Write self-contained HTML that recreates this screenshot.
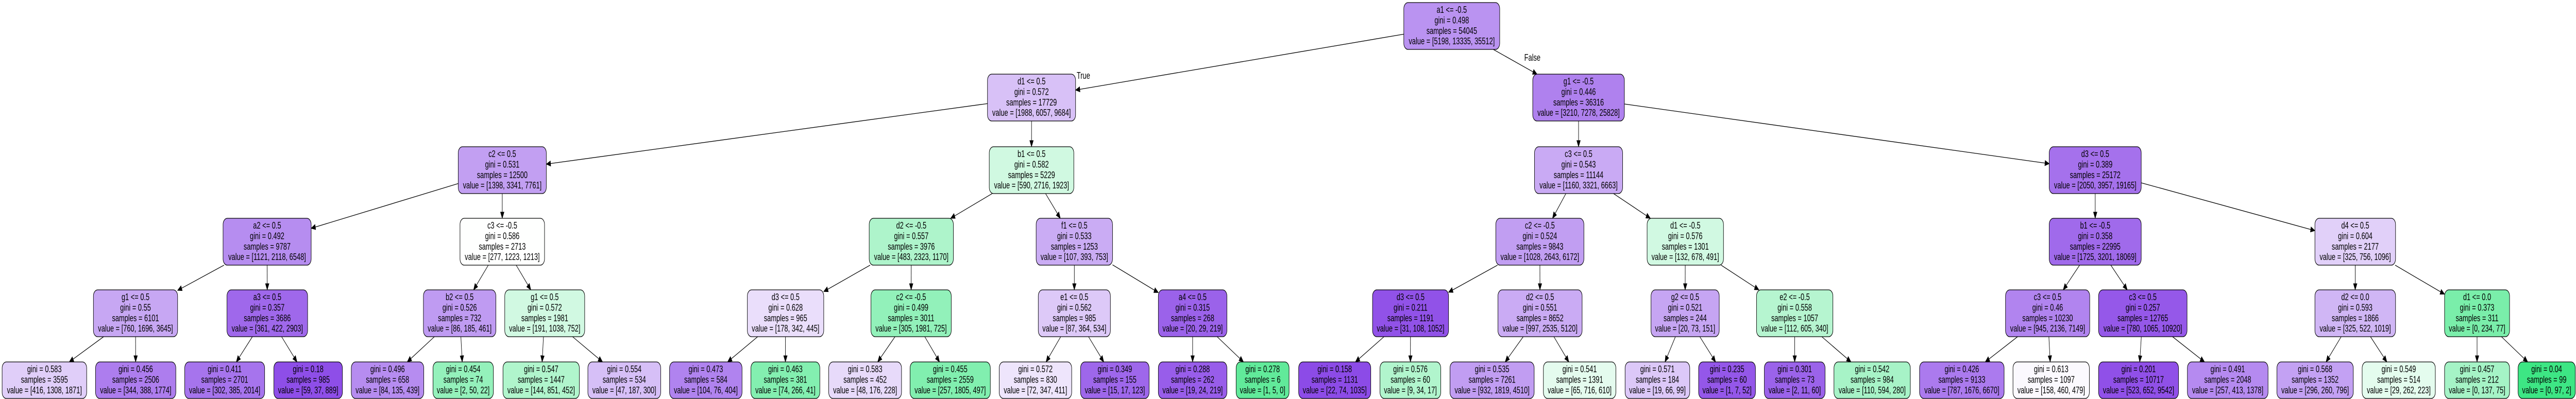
<!DOCTYPE html>
<html><head><meta charset="utf-8">
<style>
html,body{margin:0;padding:0;background:#fff;overflow:hidden;width:100%;height:100%;}
svg{display:block;position:fixed;left:0;top:0;width:100vw;height:100vh;}
text{font-family:"Liberation Sans",Arial,sans-serif;font-size:18.67px;fill:#000;text-anchor:middle;}
</style></head>
<body>
<svg id="s" xmlns="http://www.w3.org/2000/svg" viewBox="0 0 7252 775" preserveAspectRatio="none">
<rect width="7252" height="775" fill="#fff"/>
<g id="shapes"></g>
<g id="texts">
<text x="3050" y="153">True</text>
<text x="4314" y="118">False</text>

<text y="25"><tspan x="4087">a1 &lt;= -0.5</tspan><tspan x="4087" dy="20.4">gini = 0.498</tspan><tspan x="4087" dy="20.4">samples = 54045</tspan><tspan x="4087" dy="20.4">value = [5198, 13335, 35512]</tspan></text>

<text y="164"><tspan x="2904">d1 &lt;= 0.5</tspan><tspan x="2904" dy="20.4">gini = 0.572</tspan><tspan x="2904" dy="20.4">samples = 17729</tspan><tspan x="2904" dy="20.4">value = [1988, 6057, 9684]</tspan></text>
<text y="164"><tspan x="4444">g1 &lt;= -0.5</tspan><tspan x="4444" dy="20.4">gini = 0.446</tspan><tspan x="4444" dy="20.4">samples = 36316</tspan><tspan x="4444" dy="20.4">value = [3210, 7278, 25828]</tspan></text>

<text y="305"><tspan x="1414">c2 &lt;= 0.5</tspan><tspan x="1414" dy="20.4">gini = 0.531</tspan><tspan x="1414" dy="20.4">samples = 12500</tspan><tspan x="1414" dy="20.4">value = [1398, 3341, 7761]</tspan></text>
<text y="305"><tspan x="2904">b1 &lt;= 0.5</tspan><tspan x="2904" dy="20.4">gini = 0.582</tspan><tspan x="2904" dy="20.4">samples = 5229</tspan><tspan x="2904" dy="20.4">value = [590, 2716, 1923]</tspan></text>
<text y="305"><tspan x="4444">c3 &lt;= 0.5</tspan><tspan x="4444" dy="20.4">gini = 0.543</tspan><tspan x="4444" dy="20.4">samples = 11144</tspan><tspan x="4444" dy="20.4">value = [1160, 3321, 6663]</tspan></text>
<text y="305"><tspan x="5898.5">d3 &lt;= 0.5</tspan><tspan x="5898.5" dy="20.4">gini = 0.389</tspan><tspan x="5898.5" dy="20.4">samples = 25172</tspan><tspan x="5898.5" dy="20.4">value = [2050, 3957, 19165]</tspan></text>

<text y="444"><tspan x="752">a2 &lt;= 0.5</tspan><tspan x="752" dy="20.4">gini = 0.492</tspan><tspan x="752" dy="20.4">samples = 9787</tspan><tspan x="752" dy="20.4">value = [1121, 2118, 6548]</tspan></text>
<text y="444"><tspan x="1414">c3 &lt;= -0.5</tspan><tspan x="1414" dy="20.4">gini = 0.586</tspan><tspan x="1414" dy="20.4">samples = 2713</tspan><tspan x="1414" dy="20.4">value = [277, 1223, 1213]</tspan></text>
<text y="444"><tspan x="2565.5">d2 &lt;= -0.5</tspan><tspan x="2565.5" dy="20.4">gini = 0.557</tspan><tspan x="2565.5" dy="20.4">samples = 3976</tspan><tspan x="2565.5" dy="20.4">value = [483, 2323, 1170]</tspan></text>
<text y="444"><tspan x="3024.5">f1 &lt;= 0.5</tspan><tspan x="3024.5" dy="20.4">gini = 0.533</tspan><tspan x="3024.5" dy="20.4">samples = 1253</tspan><tspan x="3024.5" dy="20.4">value = [107, 393, 753]</tspan></text>
<text y="444"><tspan x="4335">c2 &lt;= -0.5</tspan><tspan x="4335" dy="20.4">gini = 0.524</tspan><tspan x="4335" dy="20.4">samples = 9843</tspan><tspan x="4335" dy="20.4">value = [1028, 2643, 6172]</tspan></text>
<text y="444"><tspan x="4744.5">d1 &lt;= -0.5</tspan><tspan x="4744.5" dy="20.4">gini = 0.576</tspan><tspan x="4744.5" dy="20.4">samples = 1301</tspan><tspan x="4744.5" dy="20.4">value = [132, 678, 491]</tspan></text>
<text y="444"><tspan x="5898.5">b1 &lt;= -0.5</tspan><tspan x="5898.5" dy="20.4">gini = 0.358</tspan><tspan x="5898.5" dy="20.4">samples = 22995</tspan><tspan x="5898.5" dy="20.4">value = [1725, 3201, 18069]</tspan></text>
<text y="444"><tspan x="6630.5">d4 &lt;= 0.5</tspan><tspan x="6630.5" dy="20.4">gini = 0.604</tspan><tspan x="6630.5" dy="20.4">samples = 2177</tspan><tspan x="6630.5" dy="20.4">value = [325, 756, 1096]</tspan></text>

<text y="583"><tspan x="381.5">g1 &lt;= 0.5</tspan><tspan x="381.5" dy="20.4">gini = 0.55</tspan><tspan x="381.5" dy="20.4">samples = 6101</tspan><tspan x="381.5" dy="20.4">value = [760, 1696, 3645]</tspan></text>
<text y="583"><tspan x="752.5">a3 &lt;= 0.5</tspan><tspan x="752.5" dy="20.4">gini = 0.357</tspan><tspan x="752.5" dy="20.4">samples = 3686</tspan><tspan x="752.5" dy="20.4">value = [361, 422, 2903]</tspan></text>
<text y="583"><tspan x="1294">b2 &lt;= 0.5</tspan><tspan x="1294" dy="20.4">gini = 0.526</tspan><tspan x="1294" dy="20.4">samples = 732</tspan><tspan x="1294" dy="20.4">value = [86, 185, 461]</tspan></text>
<text y="583"><tspan x="1533.5">g1 &lt;= 0.5</tspan><tspan x="1533.5" dy="20.4">gini = 0.572</tspan><tspan x="1533.5" dy="20.4">samples = 1981</tspan><tspan x="1533.5" dy="20.4">value = [191, 1038, 752]</tspan></text>
<text y="583"><tspan x="2211.5">d3 &lt;= 0.5</tspan><tspan x="2211.5" dy="20.4">gini = 0.628</tspan><tspan x="2211.5" dy="20.4">samples = 965</tspan><tspan x="2211.5" dy="20.4">value = [178, 342, 445]</tspan></text>
<text y="583"><tspan x="2565">c2 &lt;= -0.5</tspan><tspan x="2565" dy="20.4">gini = 0.499</tspan><tspan x="2565" dy="20.4">samples = 3011</tspan><tspan x="2565" dy="20.4">value = [305, 1981, 725]</tspan></text>
<text y="583"><tspan x="3024.5">e1 &lt;= 0.5</tspan><tspan x="3024.5" dy="20.4">gini = 0.562</tspan><tspan x="3024.5" dy="20.4">samples = 985</tspan><tspan x="3024.5" dy="20.4">value = [87, 364, 534]</tspan></text>
<text y="583"><tspan x="3357.5">a4 &lt;= 0.5</tspan><tspan x="3357.5" dy="20.4">gini = 0.315</tspan><tspan x="3357.5" dy="20.4">samples = 268</tspan><tspan x="3357.5" dy="20.4">value = [20, 29, 219]</tspan></text>
<text y="583"><tspan x="3971">d3 &lt;= 0.5</tspan><tspan x="3971" dy="20.4">gini = 0.211</tspan><tspan x="3971" dy="20.4">samples = 1191</tspan><tspan x="3971" dy="20.4">value = [31, 108, 1052]</tspan></text>
<text y="583"><tspan x="4335.5">d2 &lt;= 0.5</tspan><tspan x="4335.5" dy="20.4">gini = 0.551</tspan><tspan x="4335.5" dy="20.4">samples = 8652</tspan><tspan x="4335.5" dy="20.4">value = [997, 2535, 5120]</tspan></text>
<text y="583"><tspan x="4744">g2 &lt;= 0.5</tspan><tspan x="4744" dy="20.4">gini = 0.521</tspan><tspan x="4744" dy="20.4">samples = 244</tspan><tspan x="4744" dy="20.4">value = [20, 73, 151]</tspan></text>
<text y="583"><tspan x="5052.5">e2 &lt;= -0.5</tspan><tspan x="5052.5" dy="20.4">gini = 0.558</tspan><tspan x="5052.5" dy="20.4">samples = 1057</tspan><tspan x="5052.5" dy="20.4">value = [112, 605, 340]</tspan></text>
<text y="583"><tspan x="5764.5">c3 &lt;= 0.5</tspan><tspan x="5764.5" dy="20.4">gini = 0.46</tspan><tspan x="5764.5" dy="20.4">samples = 10230</tspan><tspan x="5764.5" dy="20.4">value = [945, 2136, 7149]</tspan></text>
<text y="583"><tspan x="6032.5">c3 &lt;= 0.5</tspan><tspan x="6032.5" dy="20.4">gini = 0.257</tspan><tspan x="6032.5" dy="20.4">samples = 12765</tspan><tspan x="6032.5" dy="20.4">value = [780, 1065, 10920]</tspan></text>
<text y="583"><tspan x="6630.5">d2 &lt;= 0.0</tspan><tspan x="6630.5" dy="20.4">gini = 0.593</tspan><tspan x="6630.5" dy="20.4">samples = 1866</tspan><tspan x="6630.5" dy="20.4">value = [325, 522, 1019]</tspan></text>
<text y="583"><tspan x="6973.5">d1 &lt;= 0.0</tspan><tspan x="6973.5" dy="20.4">gini = 0.373</tspan><tspan x="6973.5" dy="20.4">samples = 311</tspan><tspan x="6973.5" dy="20.4">value = [0, 234, 77]</tspan></text>

<text y="723"><tspan x="125">gini = 0.583</tspan><tspan x="125" dy="20.4">samples = 3595</tspan><tspan x="125" dy="20.4">value = [416, 1308, 1871]</tspan></text>
<text y="723"><tspan x="382">gini = 0.456</tspan><tspan x="382" dy="20.4">samples = 2506</tspan><tspan x="382" dy="20.4">value = [344, 388, 1774]</tspan></text>
<text y="723"><tspan x="632.5">gini = 0.411</tspan><tspan x="632.5" dy="20.4">samples = 2701</tspan><tspan x="632.5" dy="20.4">value = [302, 385, 2014]</tspan></text>
<text y="723"><tspan x="867.5">gini = 0.18</tspan><tspan x="867.5" dy="20.4">samples = 985</tspan><tspan x="867.5" dy="20.4">value = [59, 37, 889]</tspan></text>
<text y="723"><tspan x="1091">gini = 0.496</tspan><tspan x="1091" dy="20.4">samples = 658</tspan><tspan x="1091" dy="20.4">value = [84, 135, 439]</tspan></text>
<text y="723"><tspan x="1304">gini = 0.454</tspan><tspan x="1304" dy="20.4">samples = 74</tspan><tspan x="1304" dy="20.4">value = [2, 50, 22]</tspan></text>
<text y="723"><tspan x="1523.5">gini = 0.547</tspan><tspan x="1523.5" dy="20.4">samples = 1447</tspan><tspan x="1523.5" dy="20.4">value = [144, 851, 452]</tspan></text>
<text y="723"><tspan x="1757.5">gini = 0.554</tspan><tspan x="1757.5" dy="20.4">samples = 534</tspan><tspan x="1757.5" dy="20.4">value = [47, 187, 300]</tspan></text>
<text y="723"><tspan x="1987">gini = 0.473</tspan><tspan x="1987" dy="20.4">samples = 584</tspan><tspan x="1987" dy="20.4">value = [104, 76, 404]</tspan></text>
<text y="723"><tspan x="2211">gini = 0.463</tspan><tspan x="2211" dy="20.4">samples = 381</tspan><tspan x="2211" dy="20.4">value = [74, 266, 41]</tspan></text>
<text y="723"><tspan x="2435.5">gini = 0.583</tspan><tspan x="2435.5" dy="20.4">samples = 452</tspan><tspan x="2435.5" dy="20.4">value = [48, 176, 228]</tspan></text>
<text y="723"><tspan x="2675">gini = 0.455</tspan><tspan x="2675" dy="20.4">samples = 2559</tspan><tspan x="2675" dy="20.4">value = [257, 1805, 497]</tspan></text>
<text y="723"><tspan x="2915">gini = 0.572</tspan><tspan x="2915" dy="20.4">samples = 830</tspan><tspan x="2915" dy="20.4">value = [72, 347, 411]</tspan></text>
<text y="723"><tspan x="3138.5">gini = 0.349</tspan><tspan x="3138.5" dy="20.4">samples = 155</tspan><tspan x="3138.5" dy="20.4">value = [15, 17, 123]</tspan></text>
<text y="723"><tspan x="3357.5">gini = 0.288</tspan><tspan x="3357.5" dy="20.4">samples = 262</tspan><tspan x="3357.5" dy="20.4">value = [19, 24, 219]</tspan></text>
<text y="723"><tspan x="3554.5">gini = 0.278</tspan><tspan x="3554.5" dy="20.4">samples = 6</tspan><tspan x="3554.5" dy="20.4">value = [1, 5, 0]</tspan></text>
<text y="723"><tspan x="3757.5">gini = 0.158</tspan><tspan x="3757.5" dy="20.4">samples = 1131</tspan><tspan x="3757.5" dy="20.4">value = [22, 74, 1035]</tspan></text>
<text y="723"><tspan x="3970.5">gini = 0.576</tspan><tspan x="3970.5" dy="20.4">samples = 60</tspan><tspan x="3970.5" dy="20.4">value = [9, 34, 17]</tspan></text>
<text y="723"><tspan x="4200.5">gini = 0.535</tspan><tspan x="4200.5" dy="20.4">samples = 7261</tspan><tspan x="4200.5" dy="20.4">value = [932, 1819, 4510]</tspan></text>
<text y="723"><tspan x="4447">gini = 0.541</tspan><tspan x="4447" dy="20.4">samples = 1391</tspan><tspan x="4447" dy="20.4">value = [65, 716, 610]</tspan></text>
<text y="723"><tspan x="4666">gini = 0.571</tspan><tspan x="4666" dy="20.4">samples = 184</tspan><tspan x="4666" dy="20.4">value = [19, 66, 99]</tspan></text>
<text y="723"><tspan x="4862">gini = 0.235</tspan><tspan x="4862" dy="20.4">samples = 60</tspan><tspan x="4862" dy="20.4">value = [1, 7, 52]</tspan></text>
<text y="723"><tspan x="5052.5">gini = 0.301</tspan><tspan x="5052.5" dy="20.4">samples = 73</tspan><tspan x="5052.5" dy="20.4">value = [2, 11, 60]</tspan></text>
<text y="723"><tspan x="5270.5">gini = 0.542</tspan><tspan x="5270.5" dy="20.4">samples = 984</tspan><tspan x="5270.5" dy="20.4">value = [110, 594, 280]</tspan></text>
<text y="723"><tspan x="5523">gini = 0.426</tspan><tspan x="5523" dy="20.4">samples = 9133</tspan><tspan x="5523" dy="20.4">value = [787, 1676, 6670]</tspan></text>
<text y="723"><tspan x="5774.5">gini = 0.613</tspan><tspan x="5774.5" dy="20.4">samples = 1097</tspan><tspan x="5774.5" dy="20.4">value = [158, 460, 479]</tspan></text>
<text y="723"><tspan x="6020.5">gini = 0.201</tspan><tspan x="6020.5" dy="20.4">samples = 10717</tspan><tspan x="6020.5" dy="20.4">value = [523, 652, 9542]</tspan></text>
<text y="723"><tspan x="6271.5">gini = 0.491</tspan><tspan x="6271.5" dy="20.4">samples = 2048</tspan><tspan x="6271.5" dy="20.4">value = [257, 413, 1378]</tspan></text>
<text y="723"><tspan x="6517.5">gini = 0.568</tspan><tspan x="6517.5" dy="20.4">samples = 1352</tspan><tspan x="6517.5" dy="20.4">value = [296, 260, 796]</tspan></text>
<text y="723"><tspan x="6753">gini = 0.549</tspan><tspan x="6753" dy="20.4">samples = 514</tspan><tspan x="6753" dy="20.4">value = [29, 262, 223]</tspan></text>
<text y="723"><tspan x="6973.5">gini = 0.457</tspan><tspan x="6973.5" dy="20.4">samples = 212</tspan><tspan x="6973.5" dy="20.4">value = [0, 137, 75]</tspan></text>
<text y="723"><tspan x="7169.5">gini = 0.04</tspan><tspan x="7169.5" dy="20.4">samples = 99</tspan><tspan x="7169.5" dy="20.4">value = [0, 97, 2]</tspan></text>
</g>
</svg>
<script>
(function(){
var N=[
[3952,4222,0,5198,13335,35512,-1],
[2780,3028,1,1988,6057,9684,0],
[4315,4573,1,3210,7278,25828,0],
[1290,1538,2,1398,3341,7761,1],
[2785,3023,2,590,2716,1923,1],
[4320,4568,2,1160,3321,6663,2],
[5769,6028,2,2050,3957,19165,2],
[628,876,3,1121,2118,6548,3],
[1295,1533,3,277,1223,1213,3],
[2447,2684,3,483,2323,1170,4],
[2917,3132,3,107,393,753,4],
[4211,4459,3,1028,2643,6172,5],
[4637,4852,3,132,678,491,5],
[5769,6028,3,1725,3201,18069,6],
[6517,6744,3,325,756,1096,6],
[263,500,4,760,1696,3645,7],
[639,866,4,361,422,2903,7],
[1192,1396,4,86,185,461,8],
[1421,1646,4,191,1038,752,8],
[2104,2319,4,178,342,445,9],
[2452,2678,4,305,1981,725,9],
[2923,3126,4,87,364,534,10],
[3261,3454,4,20,29,219,10],
[3864,4078,4,31,108,1052,11],
[4217,4454,4,997,2535,5120,11],
[4648,4840,4,20,73,151,12],
[4945,5160,4,112,605,340,12],
[5646,5883,4,945,2136,7149,13],
[5908,6157,4,780,1065,10920,13],
[6517,6744,4,325,522,1019,14],
[6882,7065,4,0,234,77,14],
[6,244,5,416,1308,1871,15],
[269,495,5,344,388,1774,15],
[520,745,5,302,385,2014,16],
[771,964,5,59,37,889,16],
[989,1193,5,84,135,439,17],
[1219,1389,5,2,50,22,17],
[1416,1631,5,144,851,452,18],
[1655,1860,5,47,187,300,18],
[1885,2089,5,104,76,404,19],
[2114,2308,5,74,266,41,19],
[2333,2538,5,48,176,228,20],
[2562,2788,5,257,1805,497,20],
[2813,3017,5,72,347,411,21],
[3042,3235,5,15,17,123,21],
[3261,3454,5,19,24,219,22],
[3480,3629,5,1,5,0,22],
[3656,3859,5,22,74,1035,23],
[3885,4056,5,9,34,17,23],
[4082,4319,5,932,1819,4510,24],
[4345,4549,5,65,716,610,24],
[4575,4757,5,19,66,99,25],
[4782,4942,5,1,7,52,25],
[4967,5138,5,2,11,60,26],
[5163,5378,5,110,594,280,26],
[5404,5642,5,787,1676,6670,27],
[5667,5882,5,158,460,479,27],
[5908,6133,5,523,652,9542,28],
[6158,6385,5,257,413,1378,28],
[6410,6625,5,296,260,796,29],
[6650,6856,5,29,262,223,29],
[6882,7065,5,0,137,75,30],
[7089,7250,5,0,97,2,30]
];
var TOP=[5,144,285,424,563,703];
var NS="http://www.w3.org/2000/svg";
var g=document.getElementById("shapes");
var BASE=[[229,129,57],[57,229,129],[129,57,229]];
function box(n){var h=n[2]==5?71:91;return {x:n[0],y:TOP[n[2]],w:n[1]-n[0],h:h,cx:(n[0]+n[1])/2,cy:TOP[n[2]]+h/2};}
function col(n){
  var v=[n[3],n[4],n[5]],s=v[0]+v[1]+v[2];var f=v.map(function(a){return a/s;});
  var mi=0;for(var i=1;i<3;i++)if(f[i]>f[mi])mi=i;
  var srt=f.slice().sort(function(a,b){return b-a;});
  var al=(srt[0]-srt[1])/(1-srt[1]);
  var c=BASE[mi].map(function(x){return Math.round(al*x+(1-al)*255);});
  return "rgb("+c.join(",")+")";
}
function el(t,a){var e=document.createElementNS(NS,t);for(var k in a)e.setAttribute(k,a[k]);g.appendChild(e);return e;}
function clip(b,dx,dy){var t=Infinity;if(dx!==0)t=Math.min(t,(b.w/2)/Math.abs(dx));if(dy!==0)t=Math.min(t,(b.h/2)/Math.abs(dy));return [b.cx+dx*t,b.cy+dy*t];}
N.forEach(function(n){
  if(n[6]<0)return;
  var p=box(N[n[6]]),c=box(n);
  var dx=c.cx-p.cx,dy=c.cy-p.cy,L=Math.sqrt(dx*dx+dy*dy);dx/=L;dy/=L;
  var s=clip(p,dx,dy),e=clip(c,-dx,-dy);
  var AL=12,AW=5;
  var bx=e[0]-dx*AL,by=e[1]-dy*AL;
  el("line",{x1:s[0],y1:s[1],x2:bx,y2:by,stroke:"#000","stroke-width":1.3});
  el("polygon",{points:e[0]+","+e[1]+" "+(bx-dy*AW)+","+(by+dx*AW)+" "+(bx+dy*AW)+","+(by-dx*AW),fill:"#000",stroke:"#000"});
});
N.forEach(function(n){
  var b=box(n);
  el("rect",{x:b.x,y:b.y,width:b.w,height:b.h,rx:12,ry:12,fill:col(n),stroke:"#000","stroke-width":1.3});
});
})();
</script>
</body></html>
